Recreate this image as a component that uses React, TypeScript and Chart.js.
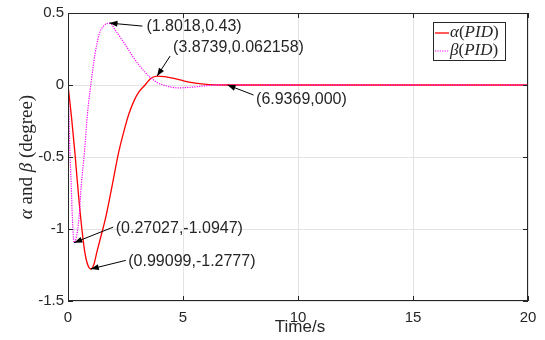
import { useEffect, useRef } from 'react';
import { Chart, registerables } from 'chart.js';

Chart.register(...registerables);

// Pitch / yaw response under PID control
const alphaTime = [0, 0.15, 0.3, 0.4, 0.55, 0.72, 0.85, 0.99099, 1.12, 1.27, 1.45, 1.64, 1.93, 2.2, 2.45, 2.65, 2.9, 3.1, 3.35, 3.6, 3.8739, 4.2, 4.6, 5.0, 5.4, 5.9, 6.4, 6.9369, 8, 12, 16, 20];
const alphaValues = [0, -0.22, -0.47, -0.66, -0.92, -1.15, -1.245, -1.2777, -1.248, -1.15, -1.04, -0.92, -0.69, -0.47, -0.31, -0.2, -0.1, -0.045, 0.0, 0.045, 0.062158, 0.058, 0.046, 0.03, 0.016, 0.006, 0.001, 0, 0, 0, 0, 0];

const betaTime = [0, 0.04, 0.08, 0.14, 0.19, 0.27027, 0.36, 0.48, 0.58, 0.72, 0.84, 0.99, 1.17, 1.35, 1.55, 1.8018, 2.1, 2.45, 2.85, 3.13, 3.4, 3.6, 3.9, 4.15, 4.45, 4.75, 5.2, 5.6, 6.0, 6.4, 6.9369, 8, 12, 16, 20];
const betaValues = [0, -0.2, -0.45, -0.69, -0.92, -1.0947, -1.06, -0.92, -0.69, -0.46, -0.21, 0, 0.21, 0.35, 0.41, 0.43, 0.37, 0.29, 0.19, 0.13, 0.08, 0.05, 0.015, 0.0, -0.013, -0.02, -0.017, -0.012, -0.005, -0.001, 0, 0, 0, 0, 0];

const xTicks = [0, 5, 10, 15, 20];
const yTicks = [-1.5, -1, -0.5, 0, 0.5];

// Data-tip callouts
const tipX = [1.8018, 3.8739, 6.9369, 0.27027, 0.99099];
const tipY = [0.43, 0.062158, 0, -1.0947, -1.2777];
const tipLabels = ['(1.8018,0.43)', '(3.8739,0.062158)', '(6.9369,000)', '(0.27027,-1.0947)', '(0.99099,-1.2777)'];
// [tail dx, tail dy, text dx, text dy] in pixels relative to the arrow tip
const tipOffsets = [
  [33, 3, 37, 4],
  [13, -20, 16, -28],
  [26, 10, 28.5, 15],
  [39, -15.5, 41.5, -14],
  [35, -8.6, 37.5, -7.6],
];

const INK = '#262626';
const SANS = '"Liberation Sans", Arial, sans-serif';
const SERIF = '"Liberation Serif", "Times New Roman", serif';

type Part = { t: string; it: boolean };

function drawRich(ctx: CanvasRenderingContext2D, parts: Part[], x: number, y: number, size: number, align: 'left' | 'center') {
  let w = 0;
  for (const p of parts) {
    ctx.font = `${p.it ? 'italic ' : ''}${size}px ${SERIF}`;
    w += ctx.measureText(p.t).width;
  }
  let cx = align === 'center' ? x - w / 2 : x;
  ctx.textAlign = 'left';
  for (const p of parts) {
    ctx.font = `${p.it ? 'italic ' : ''}${size}px ${SERIF}`;
    ctx.fillText(p.t, cx, y);
    cx += ctx.measureText(p.t).width;
  }
}

const decorPlugin = {
  id: 'decor',
  afterDatasetsDraw(chart: any) {
    const { ctx, chartArea, scales } = chart;
    const { left, right, top, bottom } = chartArea;
    ctx.save();

    // box
    ctx.strokeStyle = INK;
    ctx.lineWidth = 1;
    ctx.strokeRect(left + 0.5, top + 0.5, right - left - 1, bottom - top - 1);

    // inward ticks on all four sides
    const tl = 5;
    ctx.beginPath();
    for (const v of xTicks) {
      const px = Math.round(scales.x.getPixelForValue(v)) + 0.5;
      ctx.moveTo(px, bottom);
      ctx.lineTo(px, bottom - tl);
      ctx.moveTo(px, top);
      ctx.lineTo(px, top + tl);
    }
    for (const v of yTicks) {
      const py = Math.round(scales.y.getPixelForValue(v)) + 0.5;
      ctx.moveTo(left, py);
      ctx.lineTo(left + tl, py);
      ctx.moveTo(right, py);
      ctx.lineTo(right - tl, py);
    }
    ctx.stroke();

    // callouts
    ctx.font = `16px ${SANS}`;
    ctx.textBaseline = 'middle';
    ctx.textAlign = 'left';
    for (let i = 0; i < tipX.length; i++) {
      const px = scales.x.getPixelForValue(tipX[i]);
      const py = scales.y.getPixelForValue(tipY[i]);
      const [tdx, tdy, xdx, xdy] = tipOffsets[i];
      const tx = px + tdx;
      const ty = py + tdy;
      ctx.strokeStyle = '#000';
      ctx.fillStyle = '#000';
      ctx.lineWidth = 1;
      ctx.beginPath();
      ctx.moveTo(tx, ty);
      ctx.lineTo(px, py);
      ctx.stroke();
      const ang = Math.atan2(py - ty, px - tx);
      const hl = 8;
      const hw = 3;
      const bx = px - hl * Math.cos(ang);
      const by = py - hl * Math.sin(ang);
      ctx.beginPath();
      ctx.moveTo(px, py);
      ctx.lineTo(bx + hw * Math.sin(ang), by - hw * Math.cos(ang));
      ctx.lineTo(bx - hw * Math.sin(ang), by + hw * Math.cos(ang));
      ctx.closePath();
      ctx.fill();
      ctx.fillStyle = INK;
      ctx.fillText(tipLabels[i], px + xdx, py + xdy);
    }

    // legend
    const lx = 433;
    const ly = 22;
    const lw = 72;
    const lh = 38;
    ctx.fillStyle = '#fff';
    ctx.fillRect(lx, ly, lw, lh);
    ctx.strokeStyle = INK;
    ctx.strokeRect(lx + 0.5, ly + 0.5, lw, lh);
    const rows = [
      { color: '#ff0000', dash: [] as number[], width: 1.3, parts: [{ t: 'α', it: true }, { t: '(', it: false }, { t: 'PID', it: true }, { t: ')', it: false }] },
      { color: '#ff00ff', dash: [1.2, 1.2], width: 1.2, parts: [{ t: 'β', it: true }, { t: '(', it: false }, { t: 'PID', it: true }, { t: ')', it: false }] },
    ];
    rows.forEach((r, i) => {
      const ry = ly + 11 + i * 18;
      ctx.strokeStyle = r.color;
      ctx.lineWidth = r.width;
      ctx.setLineDash(r.dash);
      ctx.beginPath();
      ctx.moveTo(lx + 2, ry);
      ctx.lineTo(lx + 16, ry);
      ctx.stroke();
      ctx.setLineDash([]);
      ctx.fillStyle = INK;
      ctx.textBaseline = 'middle';
      drawRich(ctx, r.parts, lx + 17, ry, 17, 'left');
    });

    // axis titles
    ctx.fillStyle = INK;
    ctx.font = `17px ${SANS}`;
    ctx.textAlign = 'center';
    ctx.textBaseline = 'alphabetic';
    ctx.fillText('Time/s', (left + right) / 2 + 2, 332);

    ctx.save();
    ctx.translate(27, (top + bottom) / 2);
    ctx.rotate(-Math.PI / 2);
    ctx.textBaseline = 'middle';
    drawRich(ctx, [
      { t: 'α', it: true },
      { t: ' and ', it: false },
      { t: 'β', it: true },
      { t: ' (degree)', it: false },
    ], 0, 0, 19, 'center');
    ctx.restore();

    ctx.restore();
  },
};

export default function App() {
  const ref = useRef<HTMLCanvasElement | null>(null);

  useEffect(() => {
    document.body.style.margin = '0';
    const canvas = ref.current;
    if (!canvas) return;
    const chart = new Chart(canvas, {
      type: 'line',
      data: {
        datasets: [
          {
            label: 'α(PID)',
            data: alphaTime.map((t, i) => ({ x: t, y: alphaValues[i] })),
            borderColor: '#ff0000',
            borderWidth: 1.3,
            pointRadius: 0,
            cubicInterpolationMode: 'monotone',
            order: 1,
          },
          {
            label: 'β(PID)',
            data: betaTime.map((t, i) => ({ x: t, y: betaValues[i] })),
            borderColor: '#ff00ff',
            borderWidth: 1.2,
            borderDash: [1.2, 1.2],
            pointRadius: 0,
            cubicInterpolationMode: 'monotone',
            order: 0,
          },
        ],
      },
      options: {
        responsive: false,
        animation: false,
        devicePixelRatio: 1,
        layout: { padding: { top: 12, right: 17, left: 0, bottom: 0 } },
        plugins: { legend: { display: false }, tooltip: { enabled: false } },
        scales: {
          x: {
            type: 'linear',
            min: 0,
            max: 20,
            afterBuildTicks: (s: any) => {
              s.ticks = xTicks.map((v) => ({ value: v }));
            },
            afterFit: (s: any) => {
              s.height = 39;
            },
            ticks: {
              font: { family: SANS, size: 15 },
              color: INK,
              padding: 8,
              maxRotation: 0,
              callback: (v: any) => String(v),
            },
            grid: { color: '#e3e3e3', drawTicks: false },
            border: { display: false },
          },
          y: {
            type: 'linear',
            min: -1.5,
            max: 0.5,
            afterBuildTicks: (s: any) => {
              s.ticks = yTicks.map((v) => ({ value: v }));
            },
            afterFit: (s: any) => {
              s.width = 68;
            },
            ticks: {
              font: { family: SANS, size: 15 },
              color: INK,
              padding: 4,
              callback: (v: any) => String(v),
            },
            grid: { color: '#e3e3e3', drawTicks: false },
            border: { display: false },
          },
        },
      },
      plugins: [decorPlugin],
    } as any);
    return () => chart.destroy();
  }, []);

  return (
    <div style={{ position: 'absolute', left: 0, top: 0, width: 545, height: 340, background: '#fff' }}>
      <canvas ref={ref} width={545} height={340} style={{ width: 545, height: 340 }} />
    </div>
  );
}
